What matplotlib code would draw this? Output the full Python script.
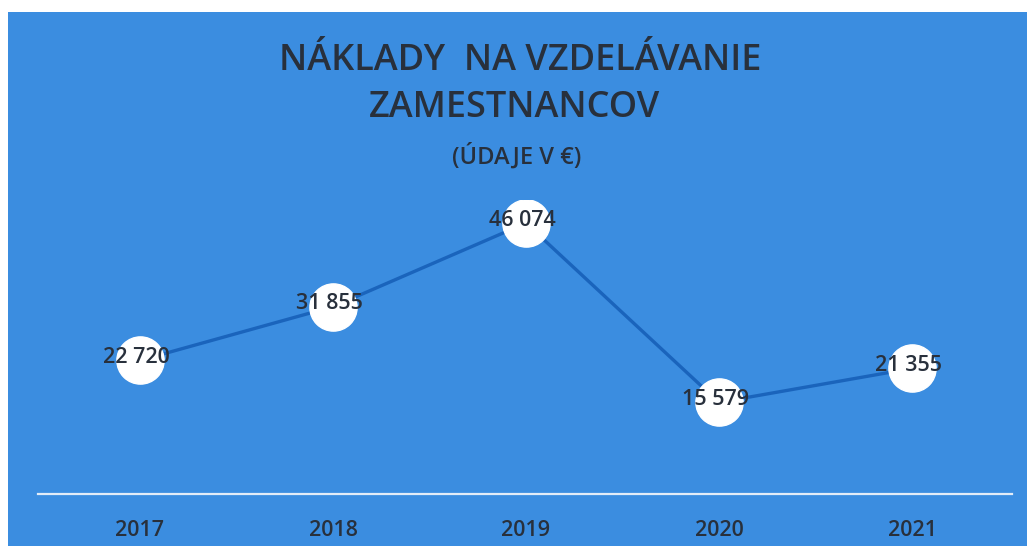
import matplotlib
matplotlib.use("Agg")
import matplotlib.pyplot as plt

years = ["2017", "2018", "2019", "2020", "2021"]
values = [22720, 31855, 46074, 15579, 21355]
labels = ["22 720", "31 855", "46 074", "15 579", "21 355"]
title_lines = ["NÁKLADY  NA VZDELÁVANIE", "ZAMESTNANCOV", "(ÚDAJE V €)"]

W, H = 1027, 546
BG = "#3b8de0"
TXT = "#28303c"
FONT = "Open Sans"

fig = plt.figure(figsize=(W / 100, H / 100), dpi=100)
fig.patch.set_facecolor("white")
bg = fig.add_axes([8 / W, 0, 1 - 8 / W, 1 - 12 / H], zorder=-5)
bg.set_facecolor(BG)
bg.set_xticks([]); bg.set_yticks([])
for s in bg.spines.values():
    s.set_visible(False)

ax = fig.add_axes([38 / W, (H - 494) / H, (1012 - 38) / W, (494 - 200) / H], zorder=1)
ax.set_facecolor("none")
x = list(range(len(years)))
ax.plot(x, values, color="#1a64bc", lw=2.4, zorder=2)
ax.plot(x, values, "o", ms=34, mfc="white", mec="white", zorder=3)
for xi, v, lab in zip(x, values, labels):
    ax.text(xi - 0.02, v + 500, lab, ha="center", va="center", fontsize=15.5,
            fontweight="semibold", color=TXT, family=FONT, zorder=4)

ax.set_xlim(-0.528, 4.518)
ax.set_ylim(0, 50000)
ax.set_yticks([])
ax.set_xticks(x)
ax.set_xticklabels(years, fontsize=15.5, fontweight="semibold", color=TXT, family=FONT)
ax.tick_params(axis="x", length=0, pad=19)
for s in ["top", "right", "left"]:
    ax.spines[s].set_visible(False)
ax.spines["bottom"].set_color("#e2ecf8")
ax.spines["bottom"].set_linewidth(1.6)

fig.text(520 / W, 1 - 61 / H, title_lines[0], ha="center", va="center",
         fontsize=26, fontweight="semibold", color=TXT, family=FONT)
fig.text(515 / W, 1 - 108 / H, title_lines[1], ha="center", va="center",
         fontsize=26, fontweight="semibold", color=TXT, family=FONT)
fig.text(517 / W, 1 - 156 / H, title_lines[2], ha="center", va="center",
         fontsize=17, fontweight="semibold", color=TXT, family=FONT)

fig.savefig("out.png", dpi=100)
